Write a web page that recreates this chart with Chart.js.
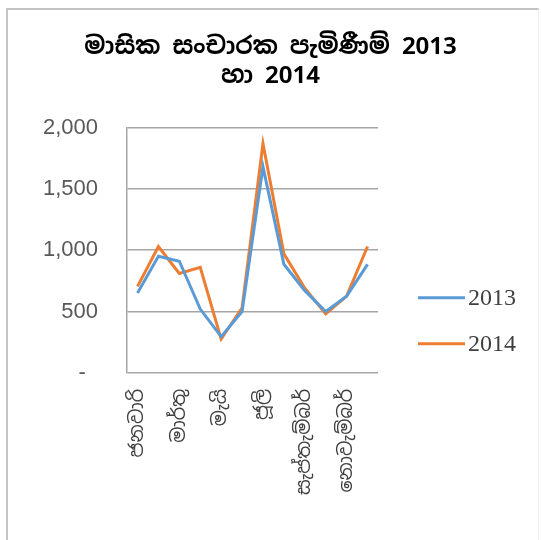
<!DOCTYPE html>
<html>
<head>
<meta charset="utf-8">
<script src="https://cdn.jsdelivr.net/npm/chart.js@4"></script>
<style>
  body { margin: 0; background: #fff; }
  #wrap { position: relative; width: 541px; height: 540px; }
  #frame {
    position: absolute; left: 6px; top: 8px; width: 530px; height: 540px;
    border-top: 2px solid #c4c4c4; border-left: 2px solid #c4c4c4; border-right: 1px solid #eeeeee;
    pointer-events: none;
  }
</style>
</head>
<body>
<div id="wrap">
  <canvas id="chart" width="541" height="540"></canvas>
  <div id="frame"></div>
</div>
<script>
const months = ["ජනවාරි", "පෙබරවාරි", "මාර්තු", "අප්‍රේල්", "මැයි", "ජූනි",
  "ජූලි", "අගෝස්තු", "සැප්තැම්බර්", "ඔක්තෝබර්", "නොවැම්බර්", "දෙසැම්බර්"];
const arrivals2013 = [650, 950, 910, 520, 295, 500, 1680, 885, 670, 500, 625, 885];
const arrivals2014 = [705, 1030, 810, 860, 275, 530, 1870, 970, 690, 480, 625, 1030];
const titleLines = ["මාසික සංචාරක පැමිණීම් 2013", "හා 2014"];
const yTicks = [0, 500, 1000, 1500, 2000];

const sinhala = "'Noto Sans Sinhala', 'Iskoola Pota', 'Liberation Serif', serif";

// legend to the right of the plot, drawn by hand so it can sit low like the original
const sideLegend = {
  id: "sideLegend",
  afterDraw(chart) {
    const { ctx, chartArea } = chart;
    const offsets = [75, 29];
    ctx.save();
    ctx.font = "24px 'Liberation Serif', serif";
    ctx.textBaseline = "middle";
    chart.data.datasets.forEach((ds, i) => {
      const y = chartArea.bottom - offsets[i];
      const x = chartArea.right + 40;
      ctx.strokeStyle = ds.borderColor;
      ctx.lineWidth = 3;
      ctx.beginPath();
      ctx.moveTo(x, y);
      ctx.lineTo(x + 47, y);
      ctx.stroke();
      ctx.fillStyle = "#404040";
      ctx.fillText(ds.label, x + 50, y + 1);
    });
    ctx.restore();
  }
};

new Chart(document.getElementById("chart"), {
  type: "line",
  data: {
    labels: months,
    datasets: [
      { label: "2013", data: arrivals2013, borderColor: "#5b9bd5", backgroundColor: "#5b9bd5",
        borderWidth: 3, pointRadius: 0, tension: 0 },
      { label: "2014", data: arrivals2014, borderColor: "#ed7d31", backgroundColor: "#ed7d31",
        borderWidth: 3, pointRadius: 0, tension: 0 }
    ]
  },
  plugins: [sideLegend],
  options: {
    responsive: false,
    animation: false,
    layout: { padding: { left: 14, right: 14, bottom: 37 } },
    plugins: {
      title: {
        display: true,
        text: titleLines,
        color: "#000",
        font: { family: sinhala, size: 24, weight: "bold", lineHeight: 1.2 },
        padding: { top: 33, bottom: 37 }
      },
      legend: { display: false },
      tooltip: { enabled: false }
    },
    scales: {
      x: {
        offset: true,
        grid: { display: false },
        border: { display: false },
        ticks: {
          autoSkip: false,
          minRotation: 90,
          maxRotation: 90,
          padding: 8,
          color: "#404040",
          font: { family: sinhala, size: 19 },
          callback: (v, i) => (i % 2 === 0 ? months[i] : "")
        }
      },
      y: {
        min: 0,
        max: 2000,
        afterBuildTicks: axis => { axis.ticks = yTicks.map(v => ({ value: v })); },
        grid: { color: "#a6a6a6", lineWidth: 1.5, drawTicks: false },
        border: { display: true, color: "#a6a6a6", width: 1.5 },
        ticks: {
          padding: 29,
          color: "#595959",
          font: { family: "'Liberation Sans', sans-serif", size: 22 },
          callback: v => (v === 0 ? "-  " : v.toLocaleString("en-US"))
        }
      },
      // empty axis on the right only keeps room for the legend
      legendSpace: {
        position: "right",
        grid: { display: false },
        border: { display: false },
        ticks: { display: false },
        afterFit: axis => { axis.width = 149; }
      }
    }
  }
});
</script>
</body>
</html>
